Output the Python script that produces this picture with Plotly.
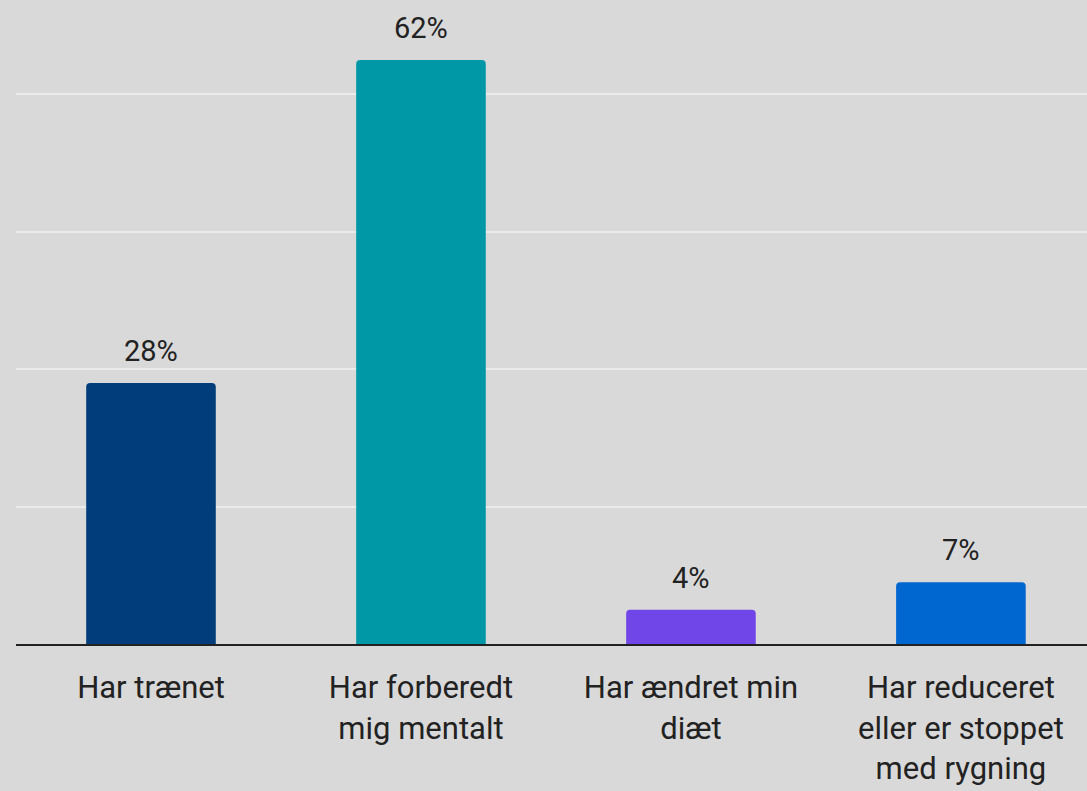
import plotly.graph_objects as go

categories = ["Har trænet", "Har forberedt<br>mig mentalt", "Har ændret min<br>diæt",
              "Har reduceret<br>eller er stoppet<br>med rygning"]
counts = [38, 85, 5, 9]
total = 137
colors = ["#003d7a", "#0097a7", "#7146e8", "#0066d0"]
pct_labels = [f"{round(c / total * 100)}%" for c in counts]

fig = go.Figure()
fig.add_trace(go.Bar(
    x=categories, y=counts, width=0.48,
    marker=dict(color=colors, line=dict(width=0), cornerradius=4),
    hoverinfo="skip",
))
for cat, c, lab in zip(categories, counts, pct_labels):
    fig.add_annotation(x=cat, y=c, text=lab, showarrow=False, yanchor="middle",
                       yshift=32, font=dict(size=29, color="#222222", family="Roboto"))

fig.update_layout(
    width=1087, height=791,
    margin=dict(l=16, r=0, t=0, b=147),
    paper_bgcolor="#d9d9d9", plot_bgcolor="#d9d9d9",
    showlegend=False,
    font=dict(family="Roboto", size=31, color="#222222"),
    bargap=0.52,
)
fig.update_xaxes(range=[-0.5, 3.467], showgrid=False, showline=True, linecolor="#222222",
                 linewidth=2, ticks="", tickfont=dict(size=31, color="#222222"), ticklabelstandoff=15)
fig.update_yaxes(range=[0, 93.74], dtick=20, showticklabels=False, gridcolor="#ebebeb",
                 gridwidth=2, zeroline=False, showline=False)
fig.write_html("out.html", post_script="document.body.style.margin='0';",
               config={"displayModeBar": False})
